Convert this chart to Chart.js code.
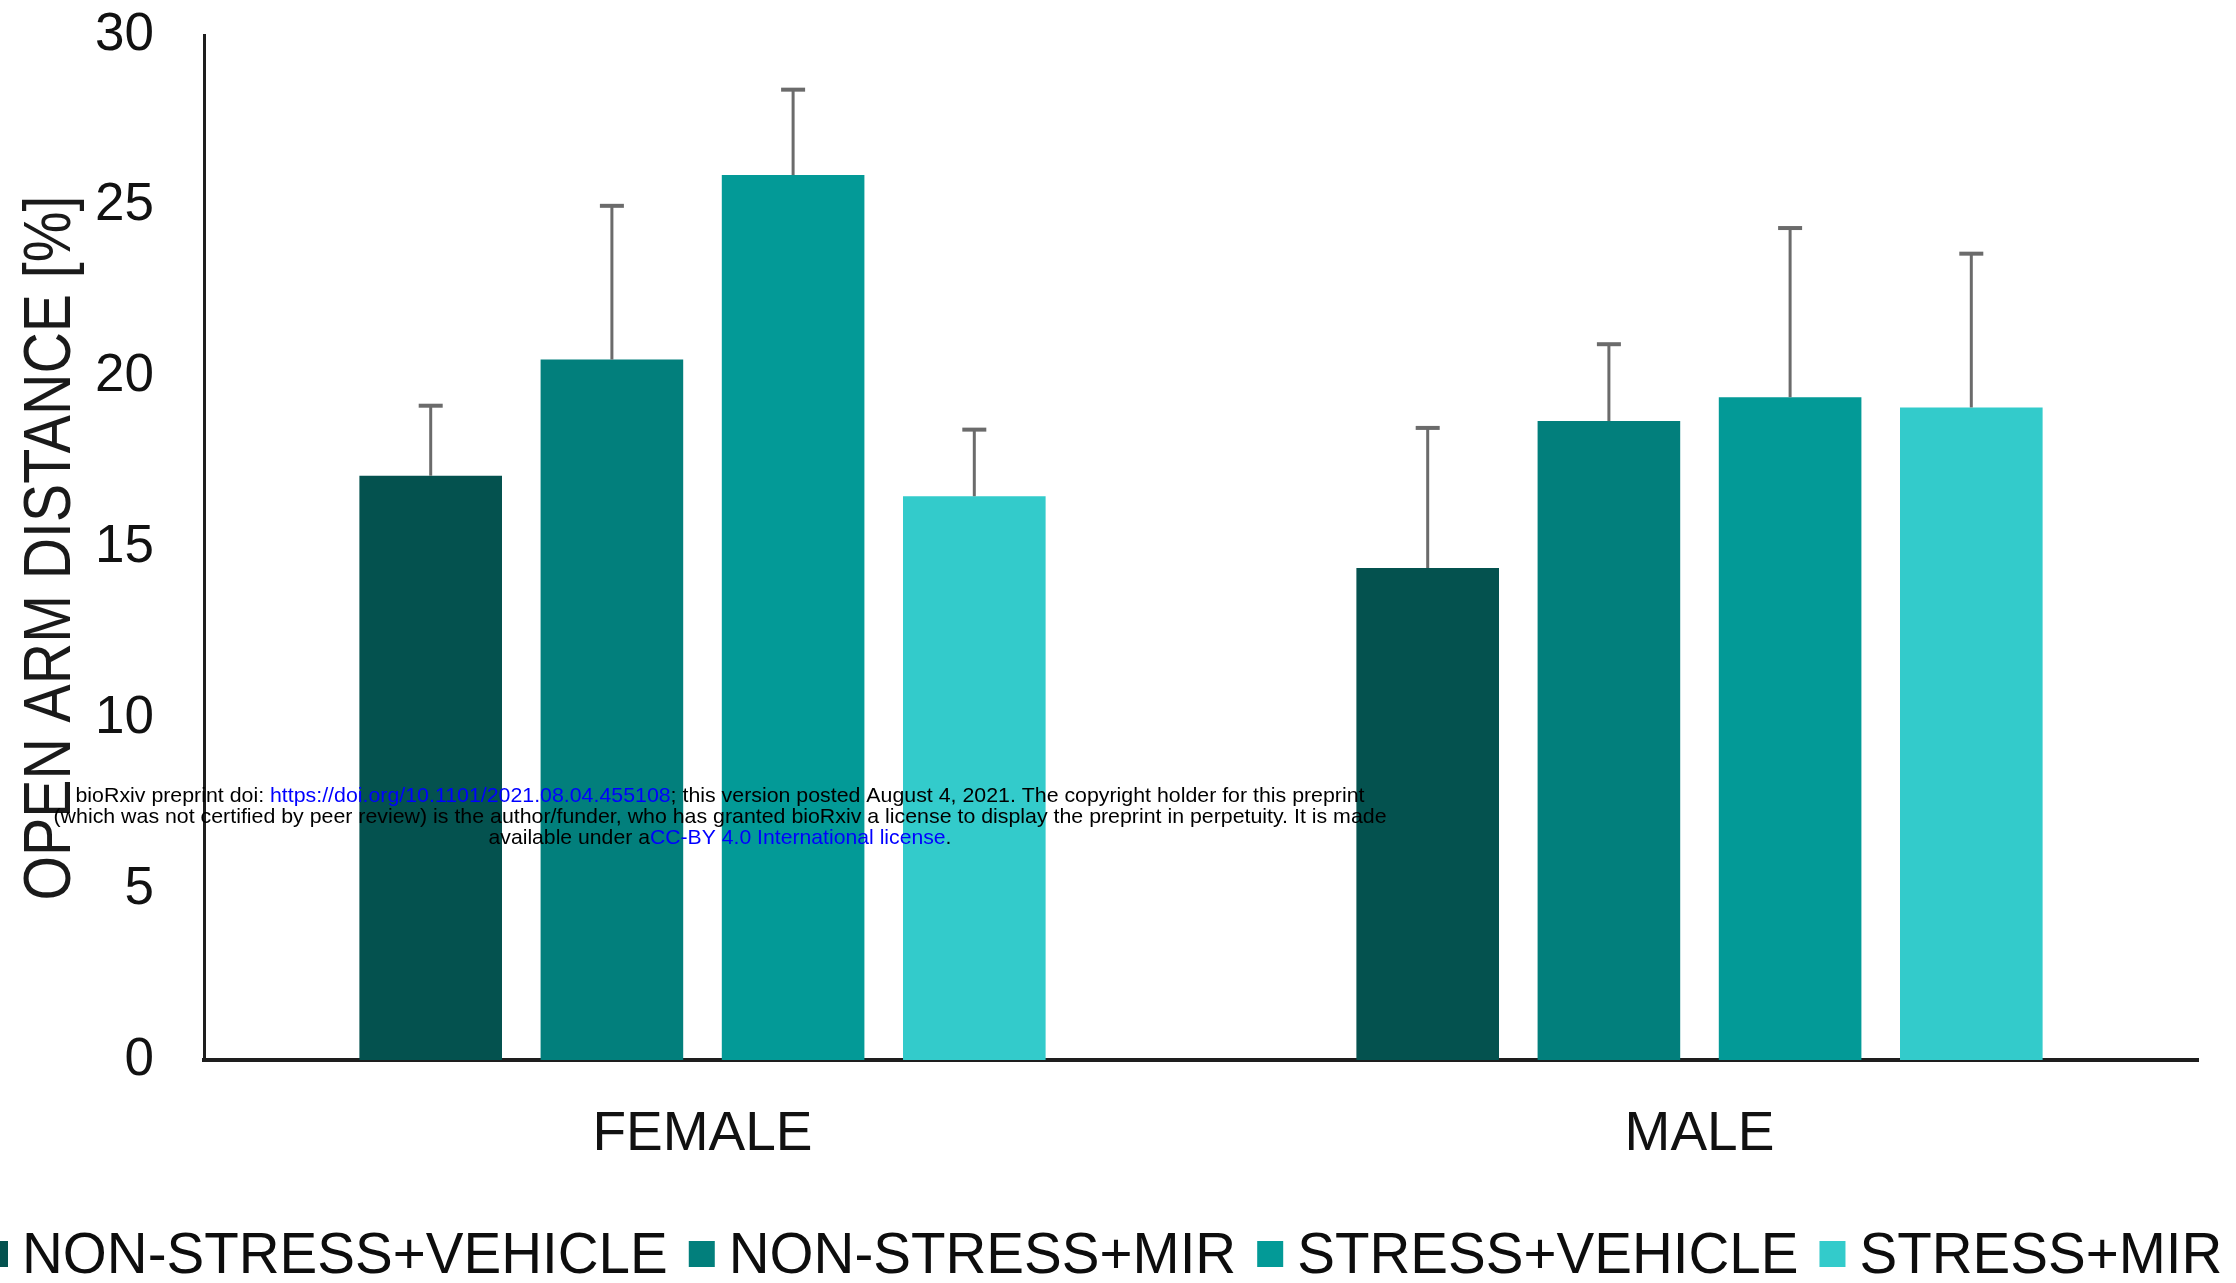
<!DOCTYPE html>
<html>
<head>
<meta charset="utf-8">
<script src="https://cdn.jsdelivr.net/npm/chart.js@4.4.1/dist/chart.umd.min.js"></script>
<style>
  html, body { margin: 0; padding: 0; background: #ffffff; overflow: hidden; }
  #wrap { position: relative; width: 2236px; height: 1283px; }
  canvas { display: block; }
</style>
</head>
<body>
<div id="wrap"><canvas id="chart" width="2236" height="1283"></canvas></div>
<script>
// Groups and treatment series
const groups = ['FEMALE', 'MALE'];
const seriesNames = ['NON-STRESS+VEHICLE', 'NON-STRESS+MIR', 'STRESS+VEHICLE', 'STRESS+MIR'];
const seriesColors = ['#04524f', '#027f7c', '#039a97', '#33cbcb'];

// Open arm distance (%) per group: [FEMALE, MALE]
const nonStressVehicle = [17.1, 14.4];
const nonStressMir     = [20.5, 18.7];
const stressVehicle    = [25.9, 19.4];
const stressMir        = [16.5, 19.1];

// Upper error (SEM) per group
const errNonStressVehicle = [2.05, 4.1];
const errNonStressMir     = [4.5, 2.25];
const errStressVehicle    = [2.5, 4.95];
const errStressMir        = [1.95, 4.5];

const yMin = 0, yMax = 30, yStep = 5;
const yTitle = 'OPEN ARM DISTANCE [%]';

const FONT = "'Liberation Sans', Arial, Helvetica, sans-serif";

const seriesValues = [nonStressVehicle, nonStressMir, stressVehicle, stressMir];
const seriesErrors = [errNonStressVehicle, errNonStressMir, errStressVehicle, errStressMir];

// Upper error bars with caps
const errorBars = {
  id: 'errorBars',
  afterDatasetsDraw(chart) {
    const ctx = chart.ctx;
    const y = chart.scales.y;
    chart.data.datasets.forEach((ds, di) => {
      const meta = chart.getDatasetMeta(di);
      meta.data.forEach((bar, i) => {
        const top = y.getPixelForValue(ds.data[i] + ds.errors[i]);
        ctx.save();
        ctx.strokeStyle = '#6b6b6b';
        ctx.lineWidth = 3;
        ctx.beginPath();
        ctx.moveTo(bar.x, bar.y);
        ctx.lineTo(bar.x, top);
        ctx.stroke();
        ctx.lineWidth = 4;
        ctx.beginPath();
        ctx.moveTo(bar.x - 12, top);
        ctx.lineTo(bar.x + 12, top);
        ctx.stroke();
        ctx.restore();
      });
    });
  }
};

// Condensed rotated axis title
const axisTitle = {
  id: 'axisTitle',
  afterDraw(chart) {
    const ctx = chart.ctx;
    ctx.save();
    ctx.font = '66px ' + FONT;
    const w = ctx.measureText(yTitle).width;
    const target = 705;
    ctx.translate(70, 548);
    ctx.rotate(-Math.PI / 2);
    ctx.scale(target / w, 1);
    ctx.fillStyle = '#1a1a1a';
    ctx.textAlign = 'center';
    ctx.textBaseline = 'alphabetic';
    ctx.fillText(yTitle, 0, 0);
    ctx.restore();
  }
};

// Single-row legend along the bottom edge
const rowLegend = {
  id: 'rowLegend',
  afterDraw(chart) {
    const ctx = chart.ctx;
    ctx.save();
    ctx.font = '58px ' + FONT;
    ctx.textBaseline = 'alphabetic';
    ctx.textAlign = 'left';
    const sx = 0.975;
    let x = -18;
    chart.data.datasets.forEach((ds) => {
      ctx.fillStyle = ds.backgroundColor;
      ctx.fillRect(x, 1241, 26, 26);
      x += 26 + 14;
      const w = ctx.measureText(ds.label).width * sx;
      ctx.save();
      ctx.translate(x, 1273);
      ctx.scale(sx, 1);
      ctx.fillStyle = '#0d0d0d';
      ctx.fillText(ds.label, 0, 0);
      ctx.restore();
      x += w + 21;
    });
    ctx.restore();
  }
};

// Preprint notice overlaid on the plot
const noticeLines = [
  { y: 796, width: 1289, parts: [
    ['bioRxiv preprint doi: ', '#000000'],
    ['https://doi.org/10.1101/2021.08.04.455108', '#0000ff'],
    ['; this version posted August 4, 2021. The copyright holder for this preprint', '#000000']
  ]},
  { y: 817, width: 1333, parts: [
    ['(which was not certified by peer review) is the author/funder, who has granted bioRxiv a license to display the preprint in perpetuity. It is made', '#000000']
  ]},
  { y: 838, width: 463, parts: [
    ['available under a', '#000000'],
    ['CC-BY 4.0 International license', '#0000ff'],
    ['.', '#000000']
  ]}
];
const notice = {
  id: 'notice',
  afterDraw(chart) {
    const ctx = chart.ctx;
    const cx = 720;
    ctx.save();
    ctx.font = '21px ' + FONT;
    ctx.textBaseline = 'middle';
    ctx.textAlign = 'left';
    noticeLines.forEach((line) => {
      const full = line.parts.map(p => p[0]).join('');
      const w = ctx.measureText(full).width;
      const s = line.width / w;
      ctx.save();
      ctx.translate(cx - line.width / 2, line.y);
      ctx.scale(s, 1);
      let x = 0;
      line.parts.forEach(([t, c]) => {
        ctx.fillStyle = c;
        ctx.fillText(t, x, 0);
        x += ctx.measureText(t).width;
      });
      ctx.restore();
    });
    ctx.restore();
  }
};

const datasets = seriesNames.map((name, i) => ({
  label: name,
  data: seriesValues[i],
  errors: seriesErrors[i],
  backgroundColor: seriesColors[i],
  borderWidth: 0,
  categoryPercentage: 0.727,
  barPercentage: 0.787
}));

new Chart(document.getElementById('chart'), {
  type: 'bar',
  data: { labels: groups, datasets },
  options: {
    responsive: false,
    animation: false,
    devicePixelRatio: 1,
    layout: { padding: { left: 0, right: 38, top: 35, bottom: 0 } },
    plugins: {
      legend: { display: false },
      tooltip: { enabled: false }
    },
    scales: {
      x: {
        grid: { display: false },
        border: { display: true, color: '#1e1e1e', width: 4 },
        ticks: { font: { family: FONT, size: 55 }, color: '#111111', padding: 34 },
        afterFit(scale) {
          scale.height = 223;
          scale.paddingLeft = 0;
          scale.paddingRight = 0;
        }
      },
      y: {
        min: yMin,
        max: yMax,
        grid: { display: false },
        border: { display: true, color: '#1e1e1e', width: 3 },
        ticks: { stepSize: yStep, font: { family: FONT, size: 53 }, color: '#111111', padding: 42 },
        afterFit(scale) {
          scale.width = 204;
          scale.paddingTop = 0;
          scale.paddingBottom = 0;
        }
      }
    }
  },
  plugins: [errorBars, axisTitle, rowLegend, notice]
});
</script>
</body>
</html>
